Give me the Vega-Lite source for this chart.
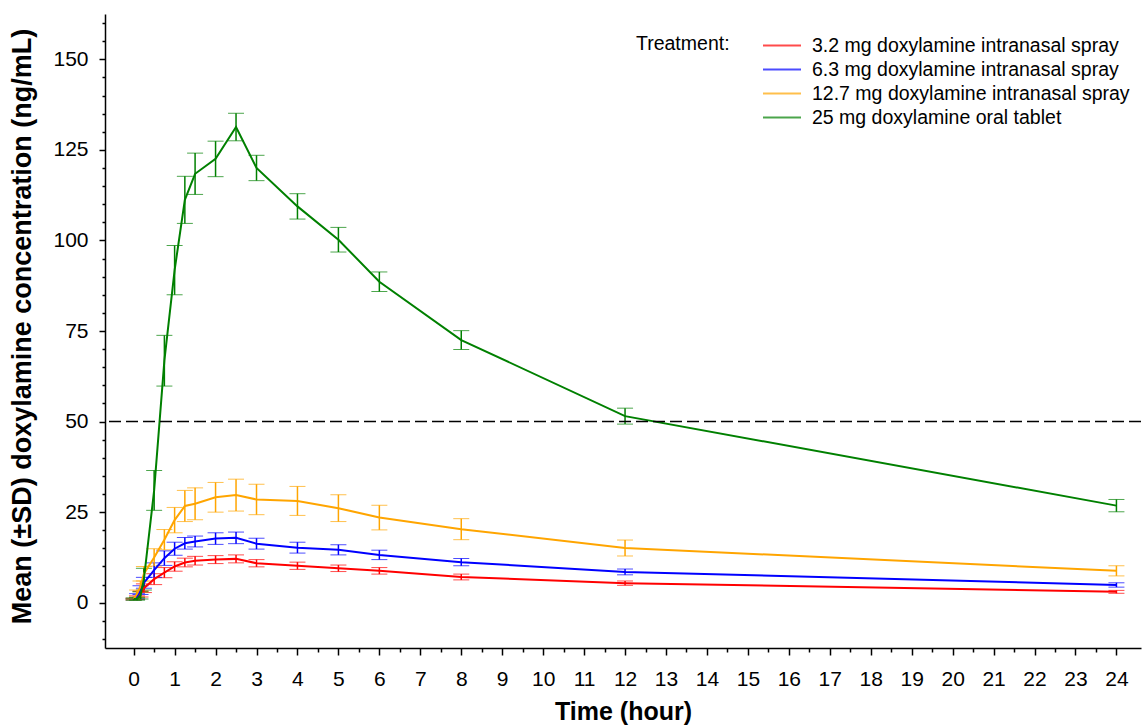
{
  "$schema": "https://vega.github.io/schema/vega-lite/v6.json",
  "width": 1036,
  "height": 634,
  "autosize": {"type": "none"},
  "padding": {"left": 105, "top": 14, "right": 1, "bottom": 79},
  "background": "white",
  "config": {
    "view": {"stroke": null},
    "font": "Liberation Sans",
    "axis": {"grid": false, "domainColor": "black", "tickColor": "black", "labelColor": "black", "titleColor": "black", "domainWidth": 1.5, "tickWidth": 1.5},
    "legend": {"orient": "none", "legendX": 531, "legendY": 21, "direction": "vertical", "titleOrient": "left", "titleAnchor": "start", "titleFontSize": 19.5, "titleFontWeight": "normal", "titleColor": "black", "titlePadding": 32, "labelFontSize": 19.5, "labelColor": "black", "labelLimit": 600, "symbolType": "M-1,0H3", "symbolSize": 361, "symbolStrokeWidth": 2, "symbolFillColor": "transparent", "labelOffset": 29, "rowPadding": 4, "padding": 0}
  },
  "data": {
    "values": [
      {"time": 0, "trt": "3.2 mg doxylamine intranasal spray", "mean": 1.0, "lo": 0.8, "hi": 1.2},
      {"time": 0.083, "trt": "3.2 mg doxylamine intranasal spray", "mean": 1.4, "lo": 0.9, "hi": 1.9},
      {"time": 0.167, "trt": "3.2 mg doxylamine intranasal spray", "mean": 2.4, "lo": 1.6, "hi": 3.2},
      {"time": 0.25, "trt": "3.2 mg doxylamine intranasal spray", "mean": 4.0, "lo": 2.8, "hi": 5.2},
      {"time": 0.5, "trt": "3.2 mg doxylamine intranasal spray", "mean": 6.5, "lo": 5.0, "hi": 8.0},
      {"time": 0.75, "trt": "3.2 mg doxylamine intranasal spray", "mean": 8.3, "lo": 6.9, "hi": 9.7},
      {"time": 1, "trt": "3.2 mg doxylamine intranasal spray", "mean": 10.0, "lo": 8.7, "hi": 11.3},
      {"time": 1.25, "trt": "3.2 mg doxylamine intranasal spray", "mean": 11.1, "lo": 9.9, "hi": 12.3},
      {"time": 1.5, "trt": "3.2 mg doxylamine intranasal spray", "mean": 11.6, "lo": 10.4, "hi": 12.8},
      {"time": 2, "trt": "3.2 mg doxylamine intranasal spray", "mean": 11.9, "lo": 10.8, "hi": 13.0},
      {"time": 2.5, "trt": "3.2 mg doxylamine intranasal spray", "mean": 12.1, "lo": 11.0, "hi": 13.2},
      {"time": 3, "trt": "3.2 mg doxylamine intranasal spray", "mean": 10.9, "lo": 9.9, "hi": 11.9},
      {"time": 4, "trt": "3.2 mg doxylamine intranasal spray", "mean": 10.2, "lo": 9.2, "hi": 11.2},
      {"time": 5, "trt": "3.2 mg doxylamine intranasal spray", "mean": 9.5, "lo": 8.6, "hi": 10.4},
      {"time": 6, "trt": "3.2 mg doxylamine intranasal spray", "mean": 8.8, "lo": 7.9, "hi": 9.7},
      {"time": 8, "trt": "3.2 mg doxylamine intranasal spray", "mean": 7.1, "lo": 6.3, "hi": 7.9},
      {"time": 12, "trt": "3.2 mg doxylamine intranasal spray", "mean": 5.4, "lo": 4.8, "hi": 6.0},
      {"time": 24, "trt": "3.2 mg doxylamine intranasal spray", "mean": 3.0, "lo": 2.6, "hi": 3.4},

      {"time": 0, "trt": "6.3 mg doxylamine intranasal spray", "mean": 1.0, "lo": 0.8, "hi": 1.2},
      {"time": 0.083, "trt": "6.3 mg doxylamine intranasal spray", "mean": 1.8, "lo": 1.1, "hi": 2.5},
      {"time": 0.167, "trt": "6.3 mg doxylamine intranasal spray", "mean": 3.5, "lo": 2.3, "hi": 4.7},
      {"time": 0.25, "trt": "6.3 mg doxylamine intranasal spray", "mean": 5.5, "lo": 4.0, "hi": 7.0},
      {"time": 0.5, "trt": "6.3 mg doxylamine intranasal spray", "mean": 9.0, "lo": 7.0, "hi": 11.0},
      {"time": 0.75, "trt": "6.3 mg doxylamine intranasal spray", "mean": 12.3, "lo": 10.3, "hi": 14.3},
      {"time": 1, "trt": "6.3 mg doxylamine intranasal spray", "mean": 14.9, "lo": 13.1, "hi": 16.7},
      {"time": 1.25, "trt": "6.3 mg doxylamine intranasal spray", "mean": 16.4, "lo": 14.8, "hi": 18.0},
      {"time": 1.5, "trt": "6.3 mg doxylamine intranasal spray", "mean": 16.9, "lo": 15.4, "hi": 18.4},
      {"time": 2, "trt": "6.3 mg doxylamine intranasal spray", "mean": 17.7, "lo": 16.1, "hi": 19.3},
      {"time": 2.5, "trt": "6.3 mg doxylamine intranasal spray", "mean": 17.9, "lo": 16.3, "hi": 19.5},
      {"time": 3, "trt": "6.3 mg doxylamine intranasal spray", "mean": 16.3, "lo": 14.8, "hi": 17.8},
      {"time": 4, "trt": "6.3 mg doxylamine intranasal spray", "mean": 15.2, "lo": 13.7, "hi": 16.7},
      {"time": 5, "trt": "6.3 mg doxylamine intranasal spray", "mean": 14.6, "lo": 13.2, "hi": 16.0},
      {"time": 6, "trt": "6.3 mg doxylamine intranasal spray", "mean": 13.2, "lo": 11.9, "hi": 14.5},
      {"time": 8, "trt": "6.3 mg doxylamine intranasal spray", "mean": 11.2, "lo": 10.2, "hi": 12.2},
      {"time": 12, "trt": "6.3 mg doxylamine intranasal spray", "mean": 8.5, "lo": 7.7, "hi": 9.3},
      {"time": 24, "trt": "6.3 mg doxylamine intranasal spray", "mean": 4.9, "lo": 4.3, "hi": 5.5},

      {"time": 0, "trt": "12.7 mg doxylamine intranasal spray", "mean": 1.0, "lo": 0.8, "hi": 1.2},
      {"time": 0.083, "trt": "12.7 mg doxylamine intranasal spray", "mean": 2.5, "lo": 1.5, "hi": 3.5},
      {"time": 0.167, "trt": "12.7 mg doxylamine intranasal spray", "mean": 4.5, "lo": 3.0, "hi": 6.0},
      {"time": 0.25, "trt": "12.7 mg doxylamine intranasal spray", "mean": 8.0, "lo": 6.0, "hi": 10.0},
      {"time": 0.5, "trt": "12.7 mg doxylamine intranasal spray", "mean": 12.5, "lo": 10.1, "hi": 14.9},
      {"time": 0.75, "trt": "12.7 mg doxylamine intranasal spray", "mean": 17.4, "lo": 14.6, "hi": 20.2},
      {"time": 1, "trt": "12.7 mg doxylamine intranasal spray", "mean": 22.8, "lo": 19.3, "hi": 26.3},
      {"time": 1.25, "trt": "12.7 mg doxylamine intranasal spray", "mean": 26.7, "lo": 22.4, "hi": 31.0},
      {"time": 1.5, "trt": "12.7 mg doxylamine intranasal spray", "mean": 27.3, "lo": 22.9, "hi": 31.7},
      {"time": 2, "trt": "12.7 mg doxylamine intranasal spray", "mean": 29.1, "lo": 25.0, "hi": 33.2},
      {"time": 2.5, "trt": "12.7 mg doxylamine intranasal spray", "mean": 29.7, "lo": 25.3, "hi": 34.1},
      {"time": 3, "trt": "12.7 mg doxylamine intranasal spray", "mean": 28.5, "lo": 24.3, "hi": 32.7},
      {"time": 4, "trt": "12.7 mg doxylamine intranasal spray", "mean": 28.1, "lo": 24.1, "hi": 32.1},
      {"time": 5, "trt": "12.7 mg doxylamine intranasal spray", "mean": 26.1, "lo": 22.4, "hi": 29.8},
      {"time": 6, "trt": "12.7 mg doxylamine intranasal spray", "mean": 23.5, "lo": 20.1, "hi": 26.9},
      {"time": 8, "trt": "12.7 mg doxylamine intranasal spray", "mean": 20.3, "lo": 17.4, "hi": 23.2},
      {"time": 12, "trt": "12.7 mg doxylamine intranasal spray", "mean": 15.1, "lo": 12.9, "hi": 17.3},
      {"time": 24, "trt": "12.7 mg doxylamine intranasal spray", "mean": 8.8, "lo": 7.4, "hi": 10.2},

      {"time": 0, "trt": "25 mg doxylamine oral tablet", "mean": 1.0, "lo": 0.7, "hi": 1.3},
      {"time": 0.083, "trt": "25 mg doxylamine oral tablet", "mean": 1.1, "lo": 0.7, "hi": 1.5},
      {"time": 0.167, "trt": "25 mg doxylamine oral tablet", "mean": 2.0, "lo": 1.0, "hi": 3.0},
      {"time": 0.25, "trt": "25 mg doxylamine oral tablet", "mean": 6.5, "lo": 3.5, "hi": 9.5},
      {"time": 0.5, "trt": "25 mg doxylamine oral tablet", "mean": 31.0, "lo": 25.5, "hi": 36.5},
      {"time": 0.75, "trt": "25 mg doxylamine oral tablet", "mean": 66.8, "lo": 59.8, "hi": 73.8},
      {"time": 1, "trt": "25 mg doxylamine oral tablet", "mean": 91.8, "lo": 85.0, "hi": 98.6},
      {"time": 1.25, "trt": "25 mg doxylamine oral tablet", "mean": 111.2, "lo": 104.7, "hi": 117.7},
      {"time": 1.5, "trt": "25 mg doxylamine oral tablet", "mean": 118.4, "lo": 112.7, "hi": 124.1},
      {"time": 2, "trt": "25 mg doxylamine oral tablet", "mean": 122.5, "lo": 117.6, "hi": 127.4},
      {"time": 2.5, "trt": "25 mg doxylamine oral tablet", "mean": 131.3, "lo": 127.5, "hi": 135.1},
      {"time": 3, "trt": "25 mg doxylamine oral tablet", "mean": 120.0, "lo": 116.5, "hi": 123.5},
      {"time": 4, "trt": "25 mg doxylamine oral tablet", "mean": 109.4, "lo": 105.9, "hi": 112.9},
      {"time": 5, "trt": "25 mg doxylamine oral tablet", "mean": 100.2, "lo": 96.8, "hi": 103.6},
      {"time": 6, "trt": "25 mg doxylamine oral tablet", "mean": 88.6, "lo": 85.9, "hi": 91.3},
      {"time": 8, "trt": "25 mg doxylamine oral tablet", "mean": 72.5, "lo": 69.9, "hi": 75.1},
      {"time": 12, "trt": "25 mg doxylamine oral tablet", "mean": 51.5, "lo": 49.3, "hi": 53.7},
      {"time": 24, "trt": "25 mg doxylamine oral tablet", "mean": 26.8, "lo": 25.1, "hi": 28.5}
    ]
  },
  "layer": [
    {
      "mark": {"type": "errorbar", "ticks": {"size": 16, "opacity": 0.7}, "rule": {"strokeWidth": 1.5}},
      "encoding": {
        "x": {"field": "time", "type": "quantitative", "scale": {"domain": [-0.7, 24.6], "nice": false, "zero": false}, "axis": null},
        "y": {"field": "lo", "type": "quantitative", "scale": {"domain": [-12.5, 162.5], "nice": false, "zero": false}, "axis": null},
        "y2": {"field": "hi"},
        "color": {"field": "trt", "type": "nominal", "title": "Treatment:", "scale": {"domain": ["3.2 mg doxylamine intranasal spray", "6.3 mg doxylamine intranasal spray", "12.7 mg doxylamine intranasal spray", "25 mg doxylamine oral tablet"], "range": ["#ff0000", "#0000ff", "#ffa500", "#008000"]}}
      }
    },
    {
      "mark": {"type": "line", "strokeWidth": 2},
      "encoding": {
        "x": {"field": "time", "type": "quantitative", "scale": {"domain": [-0.7, 24.6], "nice": false, "zero": false},
          "axis": {"orient": "bottom", "values": [0,1,2,3,4,5,6,7,8,9,10,11,12,13,14,15,16,17,18,19,20,21,22,23,24], "tickSize": 7, "labelFontSize": 21, "labelPadding": 13, "title": "Time (hour)", "titleFontSize": 25, "titleFontWeight": "bold", "titlePadding": 10, "labelFlush": false}},
        "y": {"field": "mean", "type": "quantitative", "scale": {"domain": [-12.5, 162.5], "nice": false, "zero": false},
          "axis": {"orient": "left", "values": [0,25,50,75,100,125,150], "tickSize": 6, "labelFontSize": 21, "labelPadding": 11, "title": "Mean (±SD) doxylamine concentration (ng/mL)", "titleFontSize": 27, "titleFontWeight": "bold", "titlePadding": 16, "titleY": 312, "labelFlush": false}},
        "color": {"field": "trt", "type": "nominal", "title": "Treatment:", "scale": {"domain": ["3.2 mg doxylamine intranasal spray", "6.3 mg doxylamine intranasal spray", "12.7 mg doxylamine intranasal spray", "25 mg doxylamine oral tablet"], "range": ["#ff0000", "#0000ff", "#ffa500", "#008000"]}}
      }
    },
    {
      "data": {"values": [{"ref": 50}]},
      "mark": {"type": "rule", "strokeDash": [12, 5], "strokeWidth": 1.5, "color": "black"},
      "encoding": {
        "y": {"field": "ref", "type": "quantitative", "scale": {"domain": [-12.5, 162.5], "nice": false, "zero": false}, "axis": null}
      }
    },
    {
      "mark": {"type": "point", "opacity": 0},
      "encoding": {
        "x": {"field": "time", "type": "quantitative", "scale": {"domain": [-0.7, 24.6], "nice": false, "zero": false},
          "axis": {"orient": "bottom", "values": [0.5,1.5,2.5,3.5,4.5,5.5,6.5,7.5,8.5,9.5,10.5,11.5,12.5,13.5,14.5,15.5,16.5,17.5,18.5,19.5,20.5,21.5,22.5,23.5], "tickSize": 4, "labels": false, "domain": false, "title": null}},
        "y": {"field": "mean", "type": "quantitative", "scale": {"domain": [-12.5, 162.5], "nice": false, "zero": false},
          "axis": {"orient": "left", "values": [-10,-5,5,10,15,20,30,35,40,45,55,60,65,70,80,85,90,95,105,110,115,120,130,135,140,145,155,160], "tickSize": 3, "labels": false, "domain": false, "title": null}}
      }
    }
  ],
  "resolve": {"axis": {"x": "independent", "y": "independent"}}
}
